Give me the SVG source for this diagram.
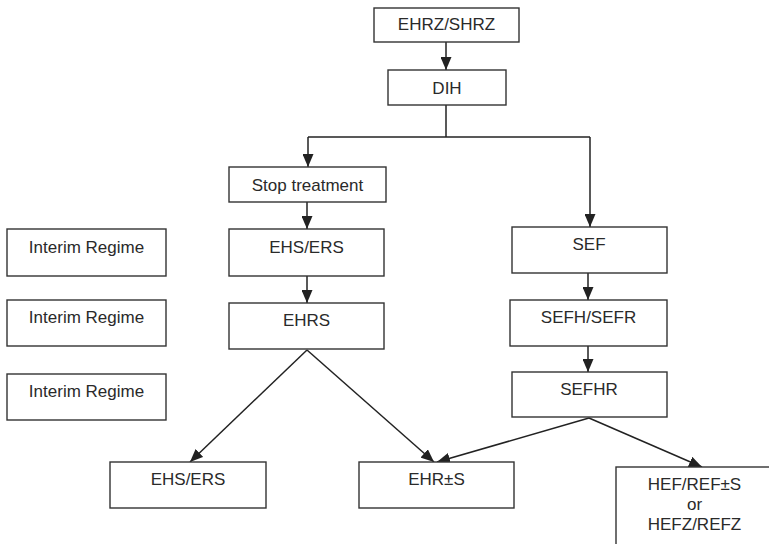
<svg xmlns="http://www.w3.org/2000/svg" width="769" height="544" viewBox="0 0 769 544">
  <defs>
    <marker id="arrow" markerUnits="userSpaceOnUse" markerWidth="13" markerHeight="11" refX="13" refY="5.5" orient="auto">
      <path d="M0,0 L13,5.5 L0,11 z" fill="#222"/>
    </marker>
    <style>
      .box { fill: #fff; stroke: #333; stroke-width: 1.4; }
      .lbl { font-family: "Liberation Sans", Arial, sans-serif; font-size: 17px; fill: #2a2a2a; text-anchor: middle; }
      .edge { fill: none; stroke: #222; stroke-width: 1.5; }
      .arr { marker-end: url(#arrow); }
    </style>
  </defs>
  <rect width="769" height="544" fill="#fff"/>

  <!-- connectors -->
  <g id="connectors">
    <line class="edge arr" x1="446" y1="42" x2="446" y2="70"/>
    <!-- split below DIH -->
    <polyline class="edge" points="446,105 446,137"/>
    <polyline class="edge" points="308,137 590,137"/>
    <line class="edge arr" x1="308" y1="137" x2="308" y2="167"/>
    <line class="edge arr" x1="590" y1="137" x2="590" y2="227"/>
    <line class="edge arr" x1="307" y1="202" x2="307" y2="229"/>
    <line class="edge arr" x1="307" y1="276" x2="307" y2="303"/>
    <line class="edge arr" x1="588" y1="273" x2="588" y2="300"/>
    <line class="edge arr" x1="588" y1="346" x2="588" y2="372"/>
    <line class="edge arr" x1="307" y1="350" x2="190" y2="462"/>
    <line class="edge arr" x1="307" y1="350" x2="434" y2="462"/>
    <line class="edge arr" x1="589" y1="418" x2="437" y2="462"/>
    <line class="edge arr" x1="589" y1="418" x2="702" y2="467"/>
  </g>

  <g id="n-ehrz">
    <rect class="box" x="374" y="8" width="145" height="34"/>
    <text class="lbl" x="446.5" y="30">EHRZ/SHRZ</text>
  </g>
  <g id="n-dih">
    <rect class="box" x="388" y="70" width="118" height="35"/>
    <text class="lbl" x="447" y="94">DIH</text>
  </g>
  <g id="n-stop">
    <rect class="box" x="229" y="167" width="157" height="35"/>
    <text class="lbl" x="307.5" y="191">Stop treatment</text>
  </g>
  <g id="n-ehs-ers">
    <rect class="box" x="229" y="229" width="155" height="47"/>
    <text class="lbl" x="306.5" y="253">EHS/ERS</text>
  </g>
  <g id="n-ehrs">
    <rect class="box" x="229" y="303" width="155" height="46"/>
    <text class="lbl" x="306.5" y="326">EHRS</text>
  </g>
  <g id="n-sef">
    <rect class="box" x="512" y="227" width="155" height="46"/>
    <text class="lbl" x="589" y="250">SEF</text>
  </g>
  <g id="n-sefh">
    <rect class="box" x="510" y="300" width="157" height="46"/>
    <text class="lbl" x="588.5" y="323">SEFH/SEFR</text>
  </g>
  <g id="n-sefhr">
    <rect class="box" x="512" y="372" width="155" height="45"/>
    <text class="lbl" x="589" y="395">SEFHR</text>
  </g>
  <g id="n-interim-1">
    <rect class="box" x="7" y="229" width="159" height="47"/>
    <text class="lbl" x="86.5" y="253">Interim Regime</text>
  </g>
  <g id="n-interim-2">
    <rect class="box" x="7" y="300" width="159" height="46"/>
    <text class="lbl" x="86.5" y="323">Interim Regime</text>
  </g>
  <g id="n-interim-3">
    <rect class="box" x="7" y="374" width="159" height="46"/>
    <text class="lbl" x="86.5" y="397">Interim Regime</text>
  </g>
  <g id="n-ehs-ers-2">
    <rect class="box" x="110" y="462" width="156" height="46"/>
    <text class="lbl" x="188" y="485">EHS/ERS</text>
  </g>
  <g id="n-ehr-s">
    <rect class="box" x="359" y="462" width="155" height="46"/>
    <text class="lbl" x="436.5" y="485">EHR±S</text>
  </g>
  <g id="n-hef">
    <rect class="box" x="616" y="467" width="157" height="90"/>
    <text class="lbl" x="694.5" y="490">HEF/REF±S</text>
    <text class="lbl" x="694.5" y="510">or</text>
    <text class="lbl" x="694.5" y="530">HEFZ/REFZ</text>
  </g>
</svg>
